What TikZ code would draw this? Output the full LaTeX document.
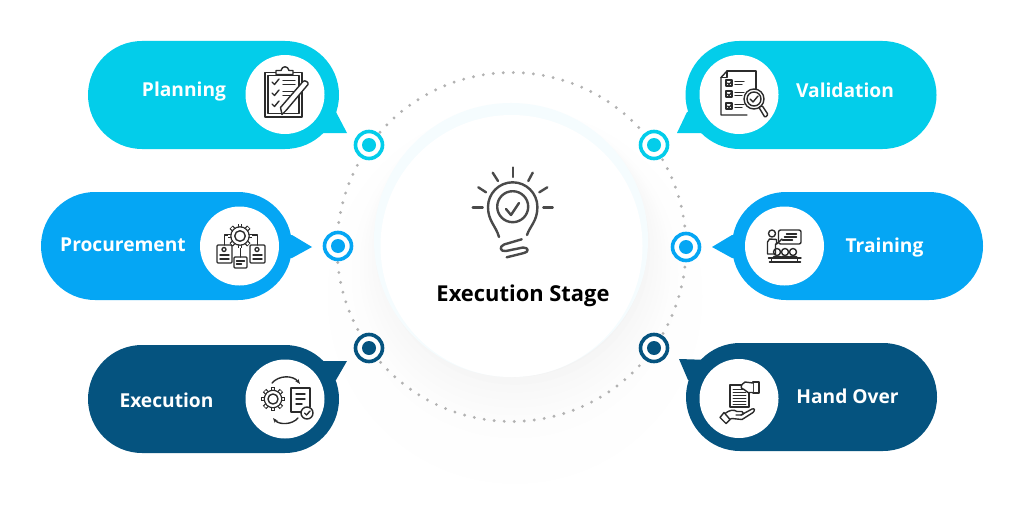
\documentclass[tikz,border=0pt]{standalone}
\usepackage{fontspec}
\setmainfont{Open Sans}
\usepackage{xcolor}
\usetikzlibrary{positioning,calc,arrows.meta}
\definecolor{aquaC}{HTML}{03CDEA}
\definecolor{skyC}{HTML}{05A6F4}
\definecolor{navyC}{HTML}{05537F}
\definecolor{inkC}{HTML}{2B2B2B}
\definecolor{bulbC}{HTML}{4A4A4A}
% gear: hollow teeth round a ring
\newcommand{\geardraw}[3]{
	\foreach \a in {0,45,...,315} {
		\draw[line width=4.8pt, line cap=butt] ($(#1,#2)+(\a:#3-3)$) -- ($(#1,#2)+(\a:#3+1.4)$);
	}
	\foreach \a in {0,45,...,315} {
		\draw[white, line width=2.2pt, line cap=butt] ($(#1,#2)+(\a:#3-3)$) -- ($(#1,#2)+(\a:#3+0.7)$);
	}
	\fill[white] (#1,#2) circle[radius=#3-1.6];
	\draw (#1,#2) ++(22.5:#3-1.9) arc[start angle=22.5, end angle=382.5, radius=#3-1.9];
	\fill[white] (#1,#2) circle[radius=#3-2.6];
	\draw (#1,#2) circle[radius=#3*0.48];
}
\begin{document}
\begin{tikzpicture}[
	x=1pt, y=-1pt,
	pill/.style={rectangle, fill=#1, minimum width=251pt, minimum height=108pt, rounded corners=54pt, inner sep=0pt},
	hole/.style={circle, fill=white, minimum size=79pt, inner sep=0pt},
	target/.style={circle, draw=#1, fill=white, line width=3.6pt, minimum size=27pt, inner sep=0pt,
		path picture={\fill[#1] (path picture bounding box.center) circle[radius=7pt];}},
	pilltext/.style={text=white, font=\fontsize{19.2}{21}\selectfont\bfseries, inner sep=0pt},
	icon/.style={draw=inkC, line width=1.4pt, line join=round, line cap=round}
	]
	\useasboundingbox (0,0) rectangle (1024,524);
	\fill[white] (0,0) rectangle (1024,524);

	% soft glow behind the centre
	\foreach \r in {187,183,...,131} {
		\pgfmathsetmacro{\shadeval}{0.3+4.2*((187-\r)/56)^3}
		\pgfmathsetmacro{\cy}{246+(\r-131)*0.9}
		\fill[black!\shadeval!white] (515,\cy) circle[radius=\r*1pt];
	}
	\fill[cyan!4!white] (511,240) circle[radius=137pt];

	% dotted ring
	\coordinate (ringcentre) at (511.5,247);
	\foreach \a in {0,3.3,...,357} {
		\fill[black!30!white] ($(ringcentre)+(\a:174.5)$) circle[radius=1.6pt];
	}
	\node[circle, fill=white, minimum size=262pt, inner sep=0pt] (centredisc) at (511.5,246) {};

	% speech tails
	\fill[aquaC] (315,133) -- (347,133) -- (336,112) -- (320,112) -- cycle;
	\fill[skyC] (282,235) -- (292,235) -- (312,247) -- (292,258) -- (282,258) -- cycle;
	\fill[navyC] (315,361) -- (347,361) -- (336,380) -- (320,380) -- cycle;
	\fill[aquaC] (708,133) -- (677,133) -- (687,112) -- (703,112) -- cycle;
	\fill[skyC] (742,235) -- (732,235) -- (712,247) -- (732,258) -- (742,258) -- cycle;
	\fill[navyC] (710,360) -- (679,359) -- (688,380) -- (704,380) -- cycle;

	% pills
	\node[pill=aquaC] (planning) at (213.5,95) {};
	\node[pill=skyC] (procurement) at (166.5,246) {};
	\node[pill=navyC] (execution) at (213.5,399) {};
	\node[pill=aquaC] (validation) at (811,95) {};
	\node[pill=skyC] (training) at (857.5,246) {};
	\node[pill=navyC] (handover) at (811.5,397) {};

	% icon discs
	\node[hole] (planningdisc) at (285,94.5) {};
	\node[hole] (procurementdisc) at (239.5,246) {};
	\node[hole] (executiondisc) at (285,399) {};
	\node[hole] (validationdisc) at (739,94.5) {};
	\node[hole] (trainingdisc) at (784.5,246) {};
	\node[hole] (handoverdisc) at (739,398.5) {};

	% labels
	\node[pilltext] (planninglabel) at (184,92) {Planning};
	\node[pilltext] (procurementlabel) at (123,245) {Procurement};
	\node[pilltext] (executionlabel) at (166.5,400) {Execution};
	\node[pilltext] (validationlabel) at (845,90) {Validation};
	\node[pilltext] (traininglabel) at (884.5,248) {Training};
	\node[pilltext] (handoverlabel) at (847.5,396.5) {Hand Over};
	\node[text=black, inner sep=0pt, font=\fontsize{21.9}{24}\selectfont\bfseries] (stagelabel) at (523,296) {Execution Stage};

	% targets on the ring
	\node[target=aquaC] (planningtarget) at (369,145) {};
	\node[target=skyC] (procurementtarget) at (338,246) {};
	\node[target=navyC] (executiontarget) at (369,348) {};
	\node[target=aquaC] (validationtarget) at (654,145) {};
	\node[target=skyC] (trainingtarget) at (686,247) {};
	\node[target=navyC] (handovertarget) at (654,348) {};

	% bulb
	\begin{scope}[draw=bulbC, line width=2.4pt, line cap=round, line join=round]
		\draw (499,237) .. controls (496,226) and (488,221) .. (488,207) arc[start angle=180, end angle=0, radius=24.7pt] .. controls (537.4,221) and (530,226) .. (527,235);
		\draw (512.7,206.7) circle[radius=15.5pt];
		\draw (506,209) -- (511,215) -- (519,203);
		\draw (521.7,239.3) -- (504,244.5) .. controls (499,246.5) and (500,252) .. (506,251) -- (523,247.5) .. controls (529,247.5) and (529,252) .. (524,253) -- (506.7,257.3);
		\foreach \xa/\ya/\xb/\yb in {512.7/167.5/512.7/177, 492.7/172.7/498/181, 532.7/172.7/528.3/181, 478.3/187.3/486/192.3, 547.3/187.3/539.3/192.3, 472.7/207.3/482.7/207.3, 543.3/207.3/552.7/207.3} {
			\draw (\xa,\ya) -- (\xb,\yb);
		}
	\end{scope}

	% planning icon
	\begin{scope}[shift={(planningdisc)}, icon]
		\draw (-20,-22) rectangle (17,22.5);
		\draw (-17,-19) rectangle (14,19);
		\draw[fill=white] (-9,-20) -- (-9,-24) -- (-4,-24) .. controls (-3,-29) and (3,-29) .. (4,-24) -- (8,-24) -- (8,-20) -- cycle;
		\foreach \y in {-12.5,-1.5,9.5} {
			\draw (-13,\y) -- (-10.5,\y+2.5) -- (-6,\y-3);
		}
		\draw (-2,-14) -- (10,-14);
		\draw (-2,-10) -- (10,-10);
		\draw (-2,-3) -- (10,-3);
		\draw (-2,1) -- (5,1);
		\draw[fill=white] (-4.5,13) -- (18,-13) .. controls (20,-15) and (24,-12) .. (23,-10) -- (1,16) -- (-3,20) -- cycle;
	\end{scope}

	% procurement icon
	\begin{scope}[shift={(procurementdisc)}, icon]
		\draw (-15,-1) -- (-15,-11) -- (-10,-11);
		\draw (18,-1) -- (18,-11) -- (11,-11);
		\draw (1,0) -- (1,11);
		\geardraw{0.5}{-10}{11}
		\foreach \xa in {-22.5,10.5} {
			\draw[rounded corners=1pt] (\xa,-1) rectangle ++(15,18);
			\draw (\xa+7,3.5) circle[radius=2pt];
			\draw (\xa+3,9) -- ++(9,0);
			\draw (\xa+3,13) -- ++(9,0);
		}
		\draw[rounded corners=1pt] (-5.5,11) rectangle ++(13,11);
		\draw (-3,15) -- (5,15);
		\draw (-3,18) -- (2,18);
	\end{scope}

	% execution icon
	\begin{scope}[shift={(executiondisc)}, icon]
		\geardraw{-12}{0}{10.5}
		\draw (6,-11) -- (25,-11) -- (25,8);
		\draw (6,-11) -- (6,13) -- (16,13);
		\draw (11,-5) -- (20,-5);
		\draw (11,0) -- (20,0);
		\draw (11,5) -- (17,5);
		\draw[fill=white] (22,14) circle[radius=6pt];
		\draw (19.5,14) -- (21.5,16) -- (25,12);
		\draw[-{Stealth[length=5pt]}] (-13,-16) .. controls (-6,-24) and (8,-24) .. (15,-15);
		\draw[-{Stealth[length=5pt]}] (13,19) .. controls (7,26) and (-6,26) .. (-12,19);
	\end{scope}

	% validation icon
	\begin{scope}[shift={(validationdisc)}, icon]
		\draw (-12,-23.5) -- (17,-23.5) -- (17,-3);
		\draw (-12,-23.5) -- (-18,-17) -- (-18,20.5) -- (8,20.5);
		\draw (-12,-23.5) -- (-12,-17) -- (-18,-17);
		\foreach \y in {-11.5,-0.5,11.5} {
			\draw (-13,\y-3) rectangle ++(6,6);
			\draw (-11.5,\y) -- (-10,\y+1.5) -- (-7,\y-2);
			\draw (-4,\y-1.5) -- (5,\y-1.5);
			\draw (-4,\y+1.5) -- (3,\y+1.5);
		}
		\draw[fill=white] (15,4.5) circle[radius=10pt];
		\draw (15,4.5) circle[radius=7pt];
		\draw (11,4.5) -- (14,7.5) -- (19,1.5);
		\draw[fill=white, rounded corners=1pt] (20,13) -- (23,11) -- (29,20) -- (26,23) -- cycle;
	\end{scope}

	% training icon
	\begin{scope}[shift={(trainingdisc)}, icon]
		\draw[rounded corners=2pt] (-6,-16) rectangle (16.5,-2);
		\draw (2,-12) -- (12,-12);
		\draw (0,-9) -- (12,-9);
		\draw (-2,-6) -- (8,-6);
		\draw (-12.5,-12.5) circle[radius=3.5pt];
		\draw (-8,-2) -- (-2.5,-7);
		\draw (-8,-2) -- (-8,-6.5) -- (-15,-7) -- (-17,-4) -- (-17,8) -- (-9,8) -- (-9,-2);
		\foreach \x in {-7.5,0.5,8.5} {
			\draw (\x,6) circle[radius=3.5pt];
			\draw[fill=white] (\x-4.5,12) .. controls (\x-4.5,9.5) and (\x+4.5,9.5) .. (\x+4.5,12);
		}
		\draw (-16,12) -- (16.5,12);
		\draw (-15,16) -- (16,16);
		\draw (-13,12) -- (-13,16);
		\draw (13,12) -- (13,16);
	\end{scope}

	% hand over icon
	\begin{scope}[shift={(handoverdisc)}, icon]
		\draw (-9,-13.5) -- (10,-13.5) -- (10,8.5) -- (-9,8.5) -- cycle;
		\foreach \y in {-9,-6,-3,0,3,5.5} {
			\draw[line width=0.9pt] (-6,\y) -- (7,\y);
		}
		\draw[fill=white] (14,-16.5) rectangle (20,-5.5);
		\draw[fill=white] (14,-15.5) -- (6,-16.5) -- (3,-14) .. controls (1,-11) and (3,-9) .. (5,-9) -- (9,-6) -- (14,-6);
		\draw[fill=white] (-14,15) .. controls (-9,11) and (-5,11) .. (-2,13) -- (3,13) .. controls (5,14) and (5,16) .. (2,16.5) -- (-3,16.5);
		\draw (2,16.5) -- (13,10.5) .. controls (16,9.5) and (16,12) .. (14,14) -- (3,21) -- (-7,20) -- (-10,21);
		\draw[fill=white] (-19,19) -- (-15,14) -- (-9,21) -- (-13,25) -- cycle;
	\end{scope}
\end{tikzpicture}
\end{document}
